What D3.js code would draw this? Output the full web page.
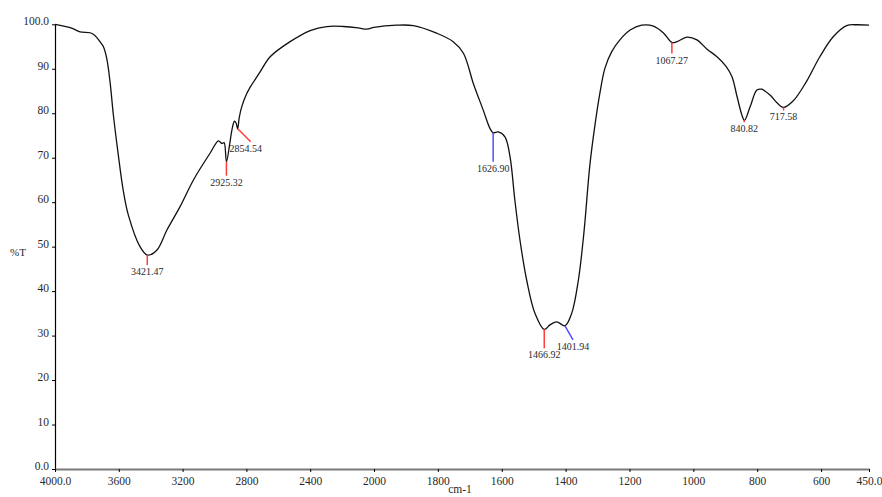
<!DOCTYPE html>
<html>
<head>
<meta charset="utf-8">
<script src="https://cdn.jsdelivr.net/npm/d3@7"></script>
<style>
  body { margin: 0; background: #fff; }
  svg { display: block; font-family: "Liberation Serif", "DejaVu Serif", serif; }
</style>
</head>
<body>
<svg id="ir" width="882" height="497"></svg>
<script>
// spectrum: wavenumber (cm-1) and %T
const wavenumbers = [4000, 3900, 3843, 3780, 3750, 3718, 3697, 3676, 3655, 3634, 3603, 3571, 3540, 3467,
  3421, 3362, 3299, 3216, 3132, 3028, 2975, 2954, 2940, 2925, 2905, 2891, 2875, 2865, 2855, 2845, 2829,
  2797, 2777, 2714, 2651, 2526, 2400, 2296, 2191, 2100, 2045, 2000, 1929, 1877, 1804, 1752, 1720, 1689,
  1658, 1637, 1627, 1611, 1590, 1574, 1559, 1543, 1522, 1496, 1467, 1449, 1428, 1402, 1381, 1360, 1345,
  1339, 1324, 1308, 1292, 1277, 1256, 1230, 1198, 1162, 1125, 1093, 1067, 1051, 1020, 989, 957, 926, 897, 879,
  863, 848, 840, 822, 801, 786, 760, 739, 718, 687, 646, 604, 562, 520, 489, 450];
const transmittance = [100, 99.2, 98.3, 98.1, 97.5, 96.1, 95, 92.4, 87.1, 79.6, 70.6, 62.4, 57.1, 50,
  48.1, 49.2, 53.7, 59, 65, 71, 73.8, 73.2, 73.4, 69.1, 73, 76.2, 78.2, 77.8, 76.5, 79, 81.5,
  84.5, 85.8, 89.3, 92.7, 96.1, 98.6, 99.5, 99.5, 99.2, 98.9, 99.3, 99.8, 99.7, 98, 96.1, 93.5, 86.7,
  80.7, 76.6, 75.6, 75.8, 74.7, 70.2, 60.5, 51.5, 42.5, 35, 31.4, 32.4, 33.1, 32.2, 35, 42.5, 51.5,
  56, 68.4, 77.4, 84.8, 90.1, 93.8, 96.5, 98.7, 99.8, 99.6, 98, 95.9, 96.1, 97.1, 96.5, 94.4, 92.7, 90.5, 88.2,
  83.7, 79.6, 78.4, 81.5, 85.2, 85.4, 84.1, 82.4, 81.3, 82.8, 87.1, 92.7, 97.2, 99.7, 99.9, 99.8];

// picked peaks
const peakLabels = ['3421.47', '2925.32', '2854.54', '1626.90', '1466.92', '1401.94', '1067.27', '840.82', '717.58'];
const peakWn = [3421.47, 2925.32, 2854.54, 1626.9, 1466.92, 1401.94, 1067.27, 840.82, 717.58];
const peakT = [48.1, 69.1, 76.5, 75.6, 31.4, 32.2, 95.9, 78.4, 81.3];

const xTicks = [4000, 3600, 3200, 2800, 2400, 2000, 1800, 1600, 1400, 1200, 1000, 800, 600, 450];
const xTickLabels = ['4000.0', '3600', '3200', '2800', '2400', '2000', '1800', '1600', '1400', '1200', '1000', '800', '600', '450.0'];
const yTicks = [0, 10, 20, 30, 40, 50, 60, 70, 80, 90, 100];
const yTickLabels = ['0.0', '10', '20', '30', '40', '50', '60', '70', '80', '90', '100.0'];

// leader line per peak: offset of its end from the peak, and colour
const leaders = [
  { dx: 0, dy: 10, c: '#ff3c3c' },
  { dx: 0, dy: 14, c: '#ff3c3c' },
  { dx: 13, dy: 13, c: '#ff3c3c', ldx: -5 },
  { dx: 0, dy: 29, c: '#5050ff' },
  { dx: 0, dy: 19, c: '#ff3c3c' },
  { dx: 8, dy: 14, c: '#5050ff' },
  { dx: 0, dy: 11, c: '#ff3c3c' },
  { dx: 0, dy: 2, c: '#ff3c3c' },
  { dx: 0, dy: 3, c: '#ff3c3c' }
];

const svg = d3.select('#ir');

// x scale is expanded 2x below 2000 cm-1
const x = d3.scaleLinear().domain([4000, 2000, 450]).range([55, 374, 869]);
const y = d3.scaleLinear().domain([0, 100]).range([469, 24.3]);

// y axis
const yAxis = svg.append('g')
  .attr('transform', 'translate(55,0)')
  .call(d3.axisLeft(y).tickValues(yTicks).tickSize(3).tickSizeOuter(0)
    .tickFormat((d, i) => yTickLabels[i]));
yAxis.select('.domain').attr('stroke', '#000').attr('stroke-width', 1.2);
yAxis.selectAll('.tick line').attr('stroke', '#000');
yAxis.selectAll('.tick text')
  .attr('x', -6).attr('dy', '0.05em')
  .attr('fill', '#2a2a2a').style('font-size', '11.5px').style('font-family', 'Liberation Serif');

// x axis
const xAxis = svg.append('g')
  .attr('transform', 'translate(0,469)')
  .call(d3.axisBottom(x).tickValues(xTicks).tickSize(3).tickSizeOuter(0)
    .tickFormat((d, i) => xTickLabels[i]));
xAxis.select('.domain').attr('stroke', '#7a7a7a').attr('stroke-width', 2);
xAxis.selectAll('.tick line').attr('stroke', '#000');
xAxis.selectAll('.tick text')
  .attr('y', 8)
  .attr('fill', '#2a2a2a').style('font-size', '11.5px').style('font-family', 'Liberation Serif');

svg.append('text')
  .attr('x', 10).attr('y', 256)
  .attr('fill', '#2a2a2a').style('font-size', '11px')
  .text('%T');

svg.append('text')
  .attr('x', 460).attr('y', 493)
  .attr('text-anchor', 'middle')
  .attr('fill', '#2a2a2a').style('font-size', '11.5px')
  .text('cm-1');

// spectrum
const spectrum = wavenumbers.map((w, i) => ({ w, t: transmittance[i] }));
const line = d3.line()
  .x(d => x(d.w))
  .y(d => y(d.t))
  .curve(d3.curveCatmullRom.alpha(0.5));

svg.append('path')
  .datum(spectrum)
  .attr('fill', 'none')
  .attr('stroke', '#111')
  .attr('stroke-width', 1.3)
  .attr('d', line);

// peak markers
const peaks = svg.append('g');
peakWn.forEach((w, i) => {
  const px = x(w), py = y(peakT[i]);
  const L = leaders[i];
  peaks.append('line')
    .attr('x1', px).attr('y1', py)
    .attr('x2', px + L.dx).attr('y2', py + L.dy)
    .attr('stroke', L.c).attr('stroke-width', 1.5);
  peaks.append('text')
    .attr('x', px + L.dx + (L.ldx || 0))
    .attr('y', py + L.dy + 10)
    .attr('text-anchor', 'middle')
    .attr('fill', '#2a2a2a')
    .style('font-size', '10px')
    .text(peakLabels[i]);
});
</script>
</body>
</html>
